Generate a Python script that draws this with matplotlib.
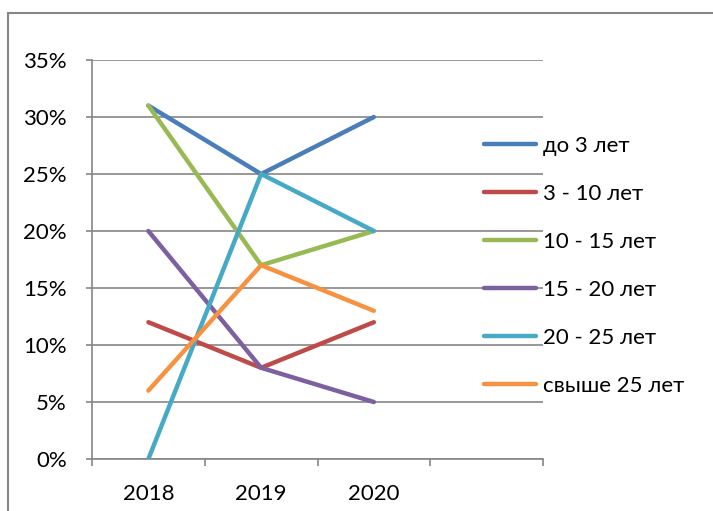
import numpy as np
import matplotlib
matplotlib.use("Agg")
import matplotlib.pyplot as plt
import matplotlib.ticker as tck
from matplotlib.lines import Line2D

plt.rcParams["font.family"] = ["Lato", "DejaVu Sans"]

## Data
years = ["2018", "2019", "2020", ""]
series_names = ["до 3 лет", "3 - 10 лет", "10 - 15 лет", "15 - 20 лет", "20 - 25 лет", "свыше 25 лет"]
do_3 = [31, 25, 30]
s3_10 = [12, 8, 12]
s10_15 = [31, 17, 20]
s15_20 = [20, 8, 5]
s20_25 = [0, 25, 20]
over_25 = [6, 17, 13]
colors = ["#4A7EBB", "#BE4B48", "#98B954", "#7D60A0", "#46AAC5", "#F69240"]

fig = plt.figure(figsize=(7.13, 5.11), dpi=100)
ax = fig.add_axes([92 / 713, 1 - 459 / 511, (543 - 92) / 713, (459 - 60) / 511])

x = np.arange(3)
lines = []
for vals, name, c in zip([do_3, s3_10, s10_15, s15_20, s20_25, over_25], series_names, colors):
    (ln,) = ax.plot(x, np.array(vals) / 100, color=c, lw=3.2, label=name,
                    solid_capstyle="round", solid_joinstyle="round")
    lines.append(ln)

ax.set_xlim(-0.5, 3.5)
ax.set_ylim(0, 0.35)
ax.yaxis.set_major_locator(tck.MultipleLocator(0.05))
ax.yaxis.set_major_formatter(tck.FuncFormatter(lambda v, p: f"{v * 100:.0f}%"))
ax.grid(axis="y", color="#868686", lw=1.2)
ax.set_axisbelow(True)

# category boundaries as major ticks, labels on minor ticks
ax.xaxis.set_major_locator(tck.FixedLocator([-0.5, 0.5, 1.5, 2.5, 3.5]))
ax.xaxis.set_major_formatter(tck.NullFormatter())
ax.xaxis.set_minor_locator(tck.FixedLocator(np.arange(len(years))))
ax.xaxis.set_minor_formatter(tck.FixedFormatter(years))
ax.tick_params(axis="x", which="major", length=5, color="#868686", width=1.2)
ax.tick_params(axis="x", which="minor", length=0, pad=18, labelsize=16)
ax.tick_params(axis="y", length=4, color="#868686", width=1.2, pad=14, labelsize=16)

for side in ["top", "right"]:
    ax.spines[side].set_visible(False)
for side in ["left", "bottom"]:
    ax.spines[side].set_color("#868686")
    ax.spines[side].set_linewidth(1.2)

fig.legend(handles=lines, loc="upper left", bbox_to_anchor=(475 / 713, 1 - 127 / 511),
           frameon=False, fontsize=16, handlelength=2.35, handletextpad=0.3,
           labelspacing=1.26, borderaxespad=0)

# outer chart frame
fig.add_artist(Line2D([8 / 713, 8 / 713], [-0.05, 1 - 13 / 511], transform=fig.transFigure,
                      color="#868686", lw=1.5))
fig.add_artist(Line2D([8 / 713, 1.05], [1 - 13 / 511, 1 - 13 / 511], transform=fig.transFigure,
                      color="#868686", lw=1.5))

fig.savefig("out.png", dpi=100)
